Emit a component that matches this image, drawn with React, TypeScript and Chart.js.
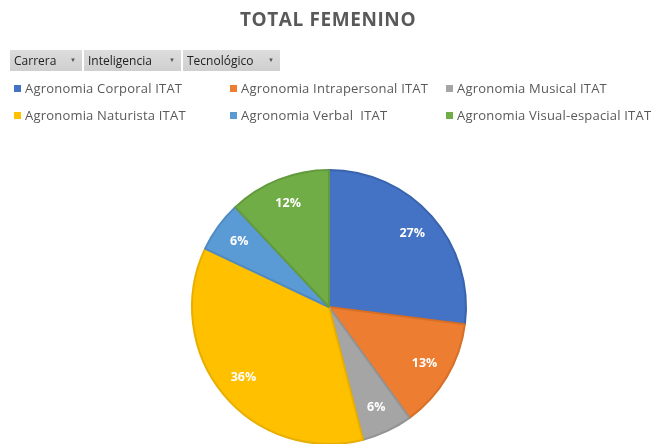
import React, { useEffect, useRef } from "react";
import { Chart, registerables } from "chart.js";

Chart.register(...registerables);

const titleText = "TOTAL FEMENINO";
const filterButtons = ["Carrera", "Inteligencia", "Tecnológico"];
const filterWidths = [72, 97, 97];
const categories = [
  "Agronomia Corporal ITAT",
  "Agronomia Intrapersonal ITAT",
  "Agronomia Musical ITAT",
  "Agronomia Naturista ITAT",
  "Agronomia Verbal  ITAT",
  "Agronomia Visual-espacial ITAT",
];
const values = [27, 13, 6, 36, 6, 12];
const colors = ["#4472C4", "#ED7D31", "#A5A5A5", "#FFC000", "#5B9BD5", "#70AD47"];
const borderColors = ["#3A63AD", "#D66F27", "#939393", "#E8AE00", "#4F8BC2", "#629A3D"];

const FONT = "'Open Sans', 'Noto Sans', sans-serif";

const labelPlugin = {
  id: "pctLabels",
  afterDatasetsDraw(chart: any) {
    const ctx = chart.ctx;
    const meta = chart.getDatasetMeta(0);
    const total = values.reduce((a, b) => a + b, 0);
    ctx.save();
    ctx.fillStyle = "#ffffff";
    ctx.font = `bold 12.5px ${FONT}`;
    ctx.textAlign = "center";
    ctx.textBaseline = "middle";
    meta.data.forEach((arc: any, i: number) => {
      const p = arc.getProps(["x", "y", "startAngle", "endAngle", "outerRadius"], true);
      const mid = (p.startAngle + p.endAngle) / 2;
      const r = p.outerRadius * 0.81;
      const pct = Math.round((values[i] / total) * 100) + "%";
      ctx.fillText(pct, p.x + Math.cos(mid) * r, p.y + Math.sin(mid) * r);
    });
    ctx.restore();
  },
};

export default function App() {
  const ref = useRef<HTMLCanvasElement>(null);
  useEffect(() => {
    if (!ref.current) return;
    const chart = new Chart(ref.current, {
      type: "pie",
      data: {
        labels: categories,
        datasets: [
          {
            data: values,
            backgroundColor: colors,
            borderColor: borderColors,
            borderWidth: 2,
          },
        ],
      },
      options: {
        animation: false,
        responsive: false,
        events: [],
        layout: { padding: { top: 169, bottom: 470 - 445, left: 191, right: 652 - 467 } },
        plugins: {
          legend: { display: false },
          tooltip: { enabled: false },
          title: { display: false },
        },
      },
      plugins: [labelPlugin],
    });
    return () => chart.destroy();
  }, []);

  const legendCols = [14, 230, 446];
  const legendRows = [89, 116];

  return (
    <div style={{ position: "fixed", left: 0, top: 0, width: 652, height: 444, overflow: "hidden", background: "#fff", fontFamily: FONT }}>
      <canvas ref={ref} width={652} height={470} style={{ position: "absolute", left: 0, top: 0, width: 652, height: 470 }} />
      <div style={{ position: "absolute", left: 0, width: 656, top: 6, textAlign: "center", fontSize: 19, fontWeight: 700, color: "#595959", letterSpacing: 0.6 }}>
        {titleText}
      </div>
      <div style={{ position: "absolute", left: 10, top: 50, display: "flex", gap: 2 }}>
        {filterButtons.map((b, i) => (
          <div key={b} style={{ background: "linear-gradient(#DDDDDD, #CFCFCF)", width: filterWidths[i], boxSizing: "border-box", height: 21, padding: "0 6px 0 4px", fontSize: 12, lineHeight: "21px", color: "#222", display: "flex", alignItems: "center", justifyContent: "space-between" }}>
            <span>{b}</span>
            <span style={{ fontSize: 6, color: "#555" }}>▼</span>
          </div>
        ))}
      </div>
      {categories.map((c, i) => {
        const col = i % 3;
        const row = Math.floor(i / 3);
        return (
          <div key={c} style={{ position: "absolute", left: legendCols[col], top: legendRows[row] - 10, display: "flex", alignItems: "center", fontSize: 13, letterSpacing: 0.2, color: "#595959", whiteSpace: "pre" }}>
            <span style={{ display: "inline-block", width: 7, height: 7, background: colors[i], marginRight: 4 }} />
            <span>{c}</span>
          </div>
        );
      })}
    </div>
  );
}
